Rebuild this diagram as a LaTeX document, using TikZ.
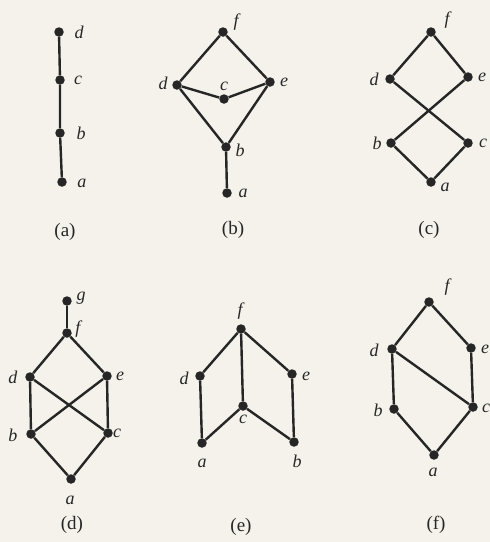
\documentclass[tikz,border=0pt]{standalone}
\usepackage{fontspec}
\setmainfont{Liberation Serif}
\definecolor{ink}{HTML}{262626}
\definecolor{paper}{HTML}{F4F2EB}
\begin{document}
\begin{tikzpicture}[x=1pt,y=-1pt,
  vx/.style={circle,fill=ink,inner sep=0pt,minimum size=9.5pt},
  ln/.style={line width=2.4pt,draw=ink},
  lab/.style={font=\fontsize{18}{18}\selectfont\itshape,text=ink,inner sep=0pt},
  capt/.style={font=\fontsize{19}{19}\selectfont,text=ink,inner sep=0pt}]
\fill[paper] (0,0) rectangle (490,542);
\useasboundingbox (0,0) rectangle (490,542);
% (a)
\node[vx] (Ad) at (59,32) {};
\node[vx] (Ac) at (60,80) {};
\node[vx] (Ab) at (60,133) {};
\node[vx] (Aa) at (62,182) {};
\draw[ln] (Aa) -- (Ab) -- (Ac) -- (Ad);
\node[lab] (LAd) at (79,32) {d};
\node[lab] (LAc) at (78,80) {c};
\node[lab] (LAb) at (81,133) {b};
\node[lab] (LAa) at (82,183) {a};
\node[capt] (CA) at (65,232) {(a)};
% (b)
\node[vx] (Bf) at (223,32) {};
\node[vx] (Bd) at (177,85) {};
\node[vx] (Be) at (270,82) {};
\node[vx] (Bc) at (224,99) {};
\node[vx] (Bb) at (226,147) {};
\node[vx] (Ba) at (227,193) {};
\draw[ln] (Bf) -- (Bd); \draw[ln] (Bf) -- (Be);
\draw[ln] (Bd) -- (Bc); \draw[ln] (Bc) -- (Be);
\draw[ln] (Bd) -- (Bb); \draw[ln] (Be) -- (Bb);
\draw[ln] (Bb) -- (Ba);
\node[lab] (LBf) at (236,22) {f};
\node[lab] (LBd) at (163,83) {d};
\node[lab] (LBe) at (284,82) {e};
\node[lab] (LBc) at (224,86) {c};
\node[lab] (LBb) at (240,150) {b};
\node[lab] (LBa) at (243,193) {a};
\node[capt] (CB) at (233,230) {(b)};
% (c)
\node[vx] (Cf) at (431,32) {};
\node[vx] (Cd) at (390,79) {};
\node[vx] (Ce) at (468,77) {};
\node[vx] (Cb) at (391,143) {};
\node[vx] (Cc) at (468,143) {};
\node[vx] (Ca) at (431,182) {};
\draw[ln] (Cf) -- (Cd); \draw[ln] (Cf) -- (Ce);
\draw[ln] (Cd) -- (Cc); \draw[ln] (Ce) -- (Cb);
\draw[ln] (Cb) -- (Ca); \draw[ln] (Cc) -- (Ca);
\node[lab] (LCf) at (447,20) {f};
\node[lab] (LCd) at (374,79) {d};
\node[lab] (LCe) at (482,77) {e};
\node[lab] (LCb) at (377,143) {b};
\node[lab] (LCc) at (483,143) {c};
\node[lab] (LCa) at (445,187) {a};
\node[capt] (CC) at (429,230) {(c)};
% (d)
\node[vx] (Dg) at (67,301) {};
\node[vx] (Df) at (67,333) {};
\node[vx] (Dd) at (30,377) {};
\node[vx] (De) at (107,376) {};
\node[vx] (Db) at (31,434) {};
\node[vx] (Dc) at (108,433) {};
\node[vx] (Da) at (71,479) {};
\draw[ln] (Dg) -- (Df);
\draw[ln] (Df) -- (Dd); \draw[ln] (Df) -- (De);
\draw[ln] (Dd) -- (Db); \draw[ln] (Dd) -- (Dc);
\draw[ln] (De) -- (Db); \draw[ln] (De) -- (Dc);
\draw[ln] (Db) -- (Da); \draw[ln] (Dc) -- (Da);
\node[lab] (LDg) at (81,298) {g};
\node[lab] (LDf) at (78,329) {f};
\node[lab] (LDd) at (13,377) {d};
\node[lab] (LDe) at (120,376) {e};
\node[lab] (LDb) at (13,435) {b};
\node[lab] (LDc) at (117,433) {c};
\node[lab] (LDa) at (70,500) {a};
\node[capt] (CD) at (72,525) {(d)};
% (e)
\node[vx] (Ef) at (241,329) {};
\node[vx] (Ed) at (200,376) {};
\node[vx] (Ee) at (292,374) {};
\node[vx] (Ec) at (243,406) {};
\node[vx] (Ea) at (202,443) {};
\node[vx] (Eb) at (294,442) {};
\draw[ln] (Ef) -- (Ed); \draw[ln] (Ef) -- (Ec); \draw[ln] (Ef) -- (Ee);
\draw[ln] (Ed) -- (Ea); \draw[ln] (Ea) -- (Ec);
\draw[ln] (Ec) -- (Eb); \draw[ln] (Ee) -- (Eb);
\node[lab] (LEf) at (240,311) {f};
\node[lab] (LEd) at (184,378) {d};
\node[lab] (LEe) at (306,376) {e};
\node[lab] (LEc) at (243,419) {c};
\node[lab] (LEa) at (202,463) {a};
\node[lab] (LEb) at (297,461) {b};
\node[capt] (CE) at (241,527) {(e)};
% (f)
\node[vx] (Ff) at (429,302) {};
\node[vx] (Fd) at (392,349) {};
\node[vx] (Fe) at (471,348) {};
\node[vx] (Fb) at (394,409) {};
\node[vx] (Fc) at (473,407) {};
\node[vx] (Fa) at (434,455) {};
\draw[ln] (Ff) -- (Fd); \draw[ln] (Ff) -- (Fe);
\draw[ln] (Fd) -- (Fb); \draw[ln] (Fd) -- (Fc);
\draw[ln] (Fe) -- (Fc);
\draw[ln] (Fb) -- (Fa); \draw[ln] (Fc) -- (Fa);
\node[lab] (LFf) at (447,287) {f};
\node[lab] (LFd) at (374,350) {d};
\node[lab] (LFe) at (485,349) {e};
\node[lab] (LFb) at (378,410) {b};
\node[lab] (LFc) at (486,408) {c};
\node[lab] (LFa) at (433,472) {a};
\node[capt] (CF) at (436,525) {(f)};
\end{tikzpicture}
\end{document}
